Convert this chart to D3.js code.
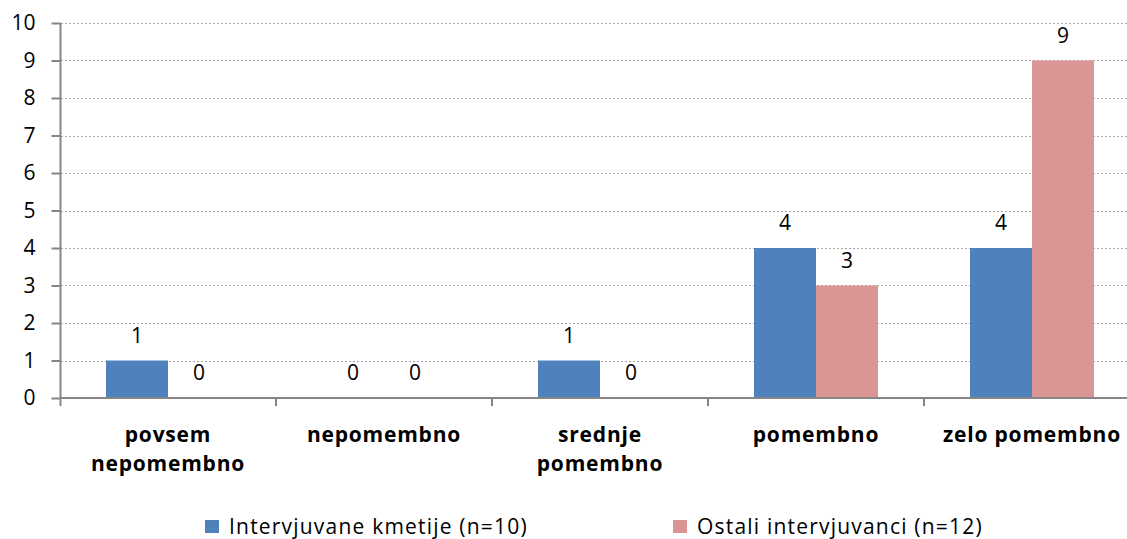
<!DOCTYPE html>
<html>
<head>
<meta charset="utf-8">
<script src="https://cdn.jsdelivr.net/npm/d3@7"></script>
<style>
  body { margin: 0; background: #fff; }
  svg { display: block; font-family: "Open Sans", sans-serif; }
</style>
</head>
<body>
<div id="root"></div>
<script>
const categories = [
	["povsem", "nepomembno"],
	["nepomembno"],
	["srednje", "pomembno"],
	["pomembno"],
	["zelo pomembno"]
];
const seriesNames = ["Intervjuvane kmetije (n=10)", "Ostali intervjuvanci (n=12)"];
const kmetije = [1, 0, 1, 4, 4];
const ostali = [0, 0, 0, 3, 9];
const yTicks = [0, 1, 2, 3, 4, 5, 6, 7, 8, 9, 10];
const colors = ["#4f81bd", "#d99694"];

const size = { width: 1127, height: 539 };
const margin = { left: 60, right: -13, top: 23, bottom: 141 };

const svg = d3.select("#root")
	.append("svg")
		.attr("width", size.width)
		.attr("height", size.height);

const x0 = d3.scaleBand()
	.domain(d3.range(categories.length))
	.range([margin.left, size.width - margin.right]);

const barW = 62;
const x1 = d3.scaleBand()
	.domain([0, 1])
	.range([x0.bandwidth() / 2 - barW, x0.bandwidth() / 2 + barW]);

const y = d3.scaleLinear()
	.domain([0, 10])
	.range([size.height - margin.bottom, margin.top]);

// gridlines
svg.append("g")
	.selectAll("line")
	.data(yTicks.filter(d => d > 0))
	.enter()
	.append("line")
		.attr("x1", margin.left + 1)
		.attr("x2", size.width)
		.attr("y1", d => Math.round(y(d)) + 0.5)
		.attr("y2", d => Math.round(y(d)) + 0.5)
		.style("stroke", "#a6a6a6")
		.style("stroke-width", 1)
		.style("stroke-dasharray", "2,2");

// bars
const rows = categories.map((c, i) => [kmetije[i], ostali[i]]);

const groups = svg.append("g")
	.selectAll(".cat")
	.data(rows)
	.enter()
	.append("g")
		.attr("class", "cat")
		.attr("transform", (d, i) => `translate(${x0(i)},0)`);

groups.selectAll("rect")
	.data(d => d)
	.enter()
	.append("rect")
		.attr("x", (d, j) => x1(j))
		.attr("width", x1.bandwidth())
		.attr("y", d => y(d))
		.attr("height", d => y(0) - y(d))
		.style("fill", (d, j) => colors[j]);

groups.selectAll(".val")
	.data(d => d)
	.enter()
	.append("text")
		.attr("class", "val")
		.attr("x", (d, j) => x1(j) + x1.bandwidth() / 2)
		.attr("y", d => y(d) - 18)
		.attr("text-anchor", "middle")
		.style("font-size", "21px")
		.style("fill", "#000")
		.text(d => d);

// axes
const axisColor = "#868686";
const yAxis = svg.append("g")
	.attr("transform", `translate(${margin.left + 0.5},0)`)
	.call(d3.axisLeft(y).tickValues(yTicks).tickSize(9).tickPadding(16).tickFormat(d3.format("d")));
yAxis.select(".domain").remove();
yAxis.append("line")
	.attr("y1", y(10)).attr("y2", y(0) + 8)
	.style("stroke", axisColor).style("stroke-width", 2);
yAxis.selectAll(".tick line").style("stroke", axisColor).style("stroke-width", 2);
yAxis.selectAll(".tick text")
	.style("font-size", "21px")
	.style("font-family", "'Open Sans', sans-serif")
	.style("fill", "#000");

const xAxis = svg.append("g");
xAxis.append("line")
	.attr("x1", margin.left).attr("x2", size.width)
	.attr("y1", y(0)).attr("y2", y(0))
	.style("stroke", axisColor).style("stroke-width", 2);
xAxis.selectAll(".xtick")
	.data(d3.range(1, categories.length))
	.enter()
	.append("line")
		.attr("x1", d => x0(d)).attr("x2", d => x0(d))
		.attr("y1", y(0)).attr("y2", y(0) + 8)
		.style("stroke", axisColor).style("stroke-width", 2);

xAxis.selectAll(".catlabel")
	.data(categories)
	.enter()
	.append("text")
		.attr("class", "catlabel")
		.attr("x", (d, i) => x0(i) + x0.bandwidth() / 2)
		.attr("y", 442)
		.attr("text-anchor", "middle")
		.style("font-size", "21px")
		.style("font-weight", "bold")
		.style("letter-spacing", "0.8px")
		.selectAll("tspan")
		.data(d => d)
		.enter()
		.append("tspan")
			.attr("x", function () { return this.parentNode.getAttribute("x"); })
			.attr("dy", (d, k) => k === 0 ? 0 : 29)
			.text(d => d);

// legend
const legendX = [205, 673];
const legend = svg.append("g")
	.selectAll(".legend")
	.data(seriesNames)
	.enter()
	.append("g")
		.attr("class", "legend")
		.attr("transform", (d, i) => `translate(${legendX[i]},520)`);

legend.append("rect")
	.attr("width", 14)
	.attr("height", 13)
	.style("fill", (d, i) => colors[i]);

legend.append("text")
	.attr("x", 24)
	.attr("y", 14)
	.style("font-size", "21px")
	.style("letter-spacing", "1.2px")
	.text(d => d);
</script>
</body>
</html>
